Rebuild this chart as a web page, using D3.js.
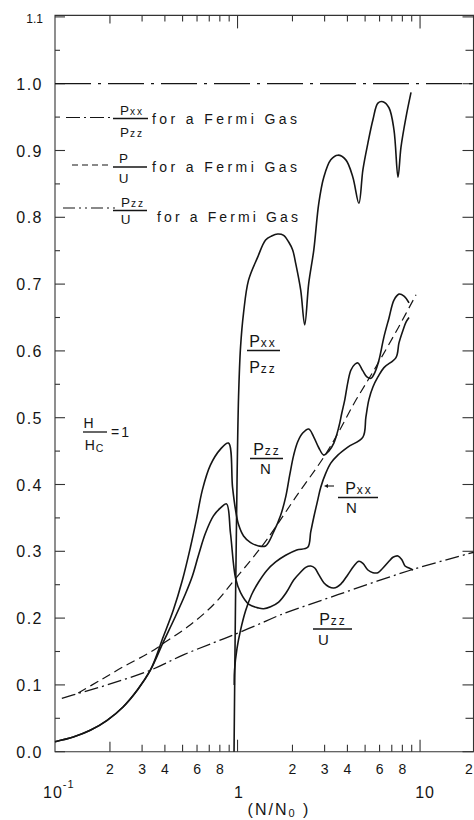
<!DOCTYPE html>
<html>
<head>
<meta charset="utf-8">
<script src="https://cdn.jsdelivr.net/npm/d3@7"></script>
<style>
  body { margin: 0; background: #fff; }
  svg { display: block; }
  text { font-family: "Liberation Sans", Arial, sans-serif; fill: #151515; }
</style>
</head>
<body>
<svg id="chart" width="474" height="820"></svg>
<script>
// ---- data: [N/N0, ratio] ----
const fermiPxxPzz = [[0.1, 1.0], [20, 1.0]];

const fermiPU = [
  [0.134, 0.088], [0.177, 0.107], [0.236, 0.127], [0.333, 0.149], [0.412, 0.166],
  [0.552, 0.190], [0.738, 0.220], [0.975, 0.259], [1.372, 0.309], [1.577, 0.332],
  [2.083, 0.381], [2.969, 0.441], [3.588, 0.479], [4.339, 0.521], [5.179, 0.556],
  [6.107, 0.589], [7.571, 0.634], [9.506, 0.684]
];

const fermiPzzU = [
  [0.109, 0.080], [0.137, 0.088], [0.193, 0.100], [0.333, 0.122], [0.505, 0.145],
  [0.738, 0.163], [0.951, 0.175], [1.288, 0.190], [1.723, 0.205], [3.544, 0.235],
  [8.923, 0.272], [20, 0.299]
];

const pxxOverPzz = [
  [0.957, 0.000], [0.975, 0.227], [0.994, 0.407], [1.013, 0.531], [1.039, 0.606],
  [1.079, 0.657], [1.149, 0.706], [1.288, 0.740], [1.425, 0.766], [1.538, 0.772],
  [1.659, 0.775], [1.789, 0.773], [1.907, 0.763], [2.005, 0.751], [2.083, 0.731],
  [2.219, 0.691], [2.334, 0.639], [2.455, 0.701], [2.617, 0.751], [2.787, 0.821],
  [2.969, 0.860], [3.243, 0.886], [3.544, 0.893], [3.921, 0.886], [4.284, 0.860],
  [4.622, 0.821], [4.862, 0.871], [5.179, 0.911], [5.518, 0.946], [5.877, 0.971],
  [6.262, 0.973], [6.755, 0.964], [7.196, 0.931], [7.571, 0.860], [7.862, 0.905],
  [8.377, 0.950], [8.923, 0.987]
];

const pzzOverN = [
  [0.100, 0.015], [0.126, 0.022], [0.156, 0.032], [0.193, 0.047], [0.236, 0.067],
  [0.282, 0.092], [0.333, 0.122], [0.392, 0.172], [0.445, 0.212], [0.499, 0.257],
  [0.552, 0.306], [0.595, 0.347], [0.642, 0.392], [0.710, 0.429], [0.807, 0.453],
  [0.892, 0.462], [0.939, 0.396], [0.975, 0.362], [1.013, 0.340], [1.079, 0.323],
  [1.179, 0.313], [1.305, 0.308], [1.425, 0.308], [1.577, 0.329], [1.723, 0.354],
  [1.835, 0.381], [1.931, 0.414], [2.031, 0.444], [2.137, 0.464], [2.276, 0.477],
  [2.455, 0.483], [2.617, 0.471], [2.787, 0.455], [2.969, 0.444], [3.162, 0.450],
  [3.370, 0.462], [3.588, 0.486], [3.727, 0.507], [3.871, 0.527], [4.021, 0.553],
  [4.177, 0.571], [4.394, 0.580], [4.563, 0.582], [4.862, 0.570], [5.114, 0.561],
  [5.380, 0.559], [5.658, 0.568], [5.952, 0.586], [6.342, 0.621], [6.755, 0.649],
  [7.196, 0.676], [7.665, 0.685], [8.167, 0.682], [8.700, 0.672]
];

const pxxOverN = [
  [0.960, 0.100], [0.963, 0.122], [0.994, 0.155], [1.039, 0.182], [1.107, 0.211],
  [1.194, 0.235], [1.305, 0.254], [1.443, 0.271], [1.618, 0.284], [1.835, 0.294],
  [2.110, 0.302], [2.424, 0.306], [2.518, 0.329], [2.617, 0.351], [2.752, 0.377],
  [2.858, 0.396], [3.045, 0.417], [3.243, 0.432], [3.544, 0.444], [4.021, 0.456],
  [4.862, 0.471], [5.050, 0.501], [5.245, 0.527], [5.518, 0.546], [5.877, 0.561],
  [6.342, 0.575], [7.380, 0.590], [7.665, 0.612], [8.064, 0.631], [8.377, 0.643],
  [8.700, 0.650]
];

const pzzOverU = [
  [0.100, 0.015], [0.126, 0.022], [0.156, 0.032], [0.193, 0.047], [0.236, 0.067],
  [0.282, 0.092], [0.333, 0.122], [0.392, 0.164], [0.456, 0.202], [0.518, 0.236],
  [0.566, 0.263], [0.611, 0.294], [0.667, 0.327], [0.738, 0.353], [0.807, 0.365],
  [0.870, 0.371], [0.915, 0.327], [0.975, 0.260], [1.039, 0.238], [1.149, 0.221],
  [1.305, 0.215], [1.390, 0.214], [1.518, 0.217], [1.680, 0.224], [1.858, 0.239],
  [2.031, 0.257], [2.219, 0.269], [2.363, 0.276], [2.518, 0.278], [2.649, 0.275],
  [2.787, 0.265], [2.969, 0.253], [3.162, 0.247], [3.370, 0.245], [3.680, 0.251],
  [4.021, 0.265], [4.339, 0.278], [4.622, 0.285], [4.862, 0.282], [5.179, 0.272],
  [5.518, 0.268], [5.877, 0.268], [6.262, 0.275], [6.755, 0.285], [7.105, 0.291],
  [7.571, 0.293], [7.963, 0.287], [8.271, 0.278], [8.700, 0.275], [9.152, 0.272]
];

// ---- ticks ----
const yTicks = [0, 0.1, 0.2, 0.3, 0.4, 0.5, 0.6, 0.7, 0.8, 0.9, 1.0, 1.1];
const yTickLabels = ['0.0', '0.1', '0.2', '0.3', '0.4', '0.5', '0.6', '0.7', '0.8', '0.9', '1.0', '1.1'];
const yMinorTicks = [0.05, 0.15, 0.25, 0.35, 0.45, 0.55, 0.65, 0.75, 0.85, 0.95, 1.05];
const xTicks = [0.2, 0.3, 0.4, 0.5, 0.6, 0.7, 0.8, 0.9, 1, 2, 3, 4, 5, 6, 7, 8, 9, 10];
const xMinorLabelVals = [0.2, 0.3, 0.4, 0.6, 0.8, 2, 3, 4, 6, 8, 20];
const xMinorLabels = ['2', '3', '4', '6', '8', '2', '3', '4', '6', '8', '2'];

const INK = '#151515';
const svg = d3.select('#chart');

const x = d3.scaleLog().domain([0.1, 20]).range([55, 475]);
const y = d3.scaleLinear().domain([0, 1.1]).range([751.7, 16.9]);

const xL = x(0.1), xR = x(20) - 1.5, yB = y(0), yT = y(1.1) - 1.5;

// frame
const frame = svg.append('g').attr('stroke', '#333').attr('stroke-width', 1.1).attr('fill', 'none');
frame.append('path').attr('d', `M${xL},${yT}H${xR}V${yB}H${xL}Z`);

// x ticks bottom (inward) and top (inward)
xTicks.forEach(v => {
  const decade = (v === 1 || v === 10);
  const lb = decade ? 12 : (v === 0.2 ? 10 : 7);
  const lt = decade ? 13 : (v === 0.2 ? 8 : 6);
  frame.append('line').attr('x1', x(v)).attr('x2', x(v)).attr('y1', yB).attr('y2', yB - lb);
  frame.append('line').attr('x1', x(v)).attr('x2', x(v)).attr('y1', yT).attr('y2', yT + lt);
});

// y ticks left and right
yTicks.forEach(v => {
  frame.append('line').attr('x1', xL).attr('x2', xL + 10).attr('y1', y(v)).attr('y2', y(v));
  frame.append('line').attr('x1', xR).attr('x2', xR - 11).attr('y1', y(v)).attr('y2', y(v));
});
yMinorTicks.forEach(v => {
  frame.append('line').attr('x1', xL).attr('x2', xL + 5).attr('y1', y(v)).attr('y2', y(v));
  frame.append('line').attr('x1', xR).attr('x2', xR - 8).attr('y1', y(v)).attr('y2', y(v));
});

// y tick labels
svg.append('g').selectAll('text')
  .data(yTicks)
  .enter().append('text')
  .attr('x', 43)
  .attr('y', d => y(d) + 6)
  .attr('text-anchor', 'end')
  .attr('font-size', (d, i) => i === yTicks.length - 1 ? 12 : 16)
  .attr('letter-spacing', (d, i) => i === yTicks.length - 1 ? 0 : 1.5)
  .text((d, i) => yTickLabels[i]);

// x tick labels (last "2" sits at the clipped right edge, nudged in to stay readable)
svg.append('g').selectAll('text')
  .data(xMinorLabelVals)
  .enter().append('text')
  .attr('x', d => d === 20 ? x(d) - 6 : x(d))
  .attr('y', 774)
  .attr('text-anchor', 'middle')
  .attr('font-size', 14)
  .text((d, i) => xMinorLabels[i]);

const dec = svg.append('g').attr('font-size', 16);
const t01 = dec.append('text').attr('x', x(0.1) - 12).attr('y', 798).attr('letter-spacing', 1);
t01.append('tspan').text('10');
t01.append('tspan').attr('font-size', 11).attr('dy', -10).text('-1');
dec.append('text').attr('x', x(1) + 1).attr('y', 798).attr('text-anchor', 'middle').text('1');
dec.append('text').attr('x', x(10) + 5).attr('y', 798).attr('text-anchor', 'middle').attr('letter-spacing', 1).text('10');

const title = dec.append('text').attr('x', 279).attr('y', 815).attr('text-anchor', 'middle').attr('letter-spacing', 2);
title.append('tspan').text('(N/N');
title.append('tspan').attr('font-size', 11).attr('dy', 2).text('0');
title.append('tspan').attr('dy', -2).text(' )');

// ---- curves ----
const smooth = d3.line().x(d => x(d[0])).y(d => y(d[1])).curve(d3.curveCatmullRom.alpha(0.5));
const straight = d3.line().x(d => x(d[0])).y(d => y(d[1]));
const curves = svg.append('g').attr('fill', 'none').attr('stroke', INK).attr('stroke-linejoin', 'round');

curves.append('path').attr('d', straight(fermiPxxPzz))
  .attr('stroke-width', 1.3).attr('stroke-dasharray', '36,7,3,7');
curves.append('path').attr('d', smooth(fermiPU))
  .attr('stroke-width', 1.2).attr('stroke-dasharray', '9,5');
curves.append('path').attr('d', smooth(fermiPzzU))
  .attr('stroke-width', 1.3).attr('stroke-dasharray', '14,4,2,4');

[pzzOverU, pzzOverN, pxxOverN, pxxOverPzz].forEach(s => {
  curves.append('path').attr('d', smooth(s)).attr('stroke-width', 1.6);
});

// ---- legend ----
const leg = svg.append('g');
const legRows = [
  { y: 117.5, x0: 66, x1: 111, dash: '14,4,2,4' },
  { y: 165, x0: 72, x1: 111, dash: '6,4' },
  { y: 208, x0: 63, x1: 115, dash: '12,4,2,4,2,4' }
];
legRows.forEach(r => {
  leg.append('line').attr('x1', r.x0).attr('x2', r.x1).attr('y1', r.y).attr('y2', r.y)
    .attr('stroke', INK).attr('stroke-width', 1.2).attr('stroke-dasharray', r.dash);
});

function sym(g, cx, by, main, sub, size, subDy) {
  const t = g.append('text').attr('x', cx).attr('y', by).attr('text-anchor', 'middle')
    .attr('font-size', size).attr('letter-spacing', 1);
  t.append('tspan').text(main);
  if (sub) t.append('tspan').attr('font-size', size * 0.75).attr('dy', subDy || 0)
    .attr('letter-spacing', 2).text(sub);
}
function bar(g, x0, x1, by) {
  g.append('line').attr('x1', x0).attr('x2', x1).attr('y1', by).attr('y2', by)
    .attr('stroke', INK).attr('stroke-width', 1.3);
}

// row 1: Pxx / Pzz
sym(leg, 132, 115, 'P', 'xx', 13.5);
bar(leg, 113, 148, 118.5);
sym(leg, 132, 137, 'P', 'zz', 13.5);
// row 2: P / U
sym(leg, 124, 163, 'P', null, 13.5);
bar(leg, 113, 147, 167);
sym(leg, 124, 183, 'U', null, 13.5);
// row 3: Pzz / U
sym(leg, 133, 207, 'P', 'zz', 13.5);
bar(leg, 113, 147, 210.5);
sym(leg, 126, 224, 'U', null, 13.5);

[[152, 124, 145], [152, 172, 145], [157, 222, 141]].forEach(([tx, ty, len]) => {
  leg.append('text').attr('x', tx).attr('y', ty).attr('font-size', 14)
    .attr('textLength', len).attr('lengthAdjust', 'spacing').text('for a Fermi Gas');
});

// ---- curve labels ----
const lab = svg.append('g');
sym(lab, 263, 347, 'P', 'xx', 16);
bar(lab, 247, 280, 350.5);
sym(lab, 263, 373, 'P', 'zz', 16);

sym(lab, 267, 455, 'P', 'zz', 16);
bar(lab, 250, 283, 458.5);
sym(lab, 266, 474, 'N', null, 15);

sym(lab, 359, 494, 'P', 'xx', 16);
bar(lab, 338, 378, 497.5);
sym(lab, 352, 513, 'N', null, 15);
lab.append('line').attr('x1', 326).attr('x2', 334).attr('y1', 486).attr('y2', 486)
  .attr('stroke', INK).attr('stroke-width', 1.1);
lab.append('path').attr('d', 'M324,486 l4,-2 v4 Z').attr('fill', INK);

sym(lab, 333, 625, 'P', 'zz', 16);
bar(lab, 313, 352, 629);
sym(lab, 324, 645, 'U', null, 15);

// H / Hc = 1
sym(lab, 89, 428, 'H', null, 14);
bar(lab, 83, 107, 432);
sym(lab, 95, 450, 'H', 'C', 14, 2);
lab.append('text').attr('x', 111).attr('y', 437).attr('font-size', 14).attr('letter-spacing', 2).text('=1');
</script>
</body>
</html>
